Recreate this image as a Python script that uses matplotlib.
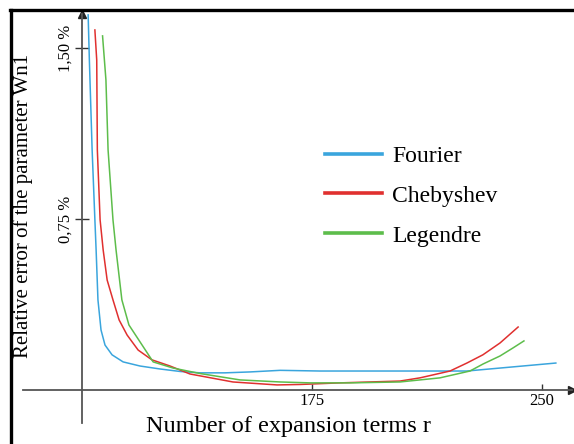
import matplotlib
matplotlib.use("Agg")
import matplotlib.pyplot as plt
from matplotlib.lines import Line2D

plt.rcParams["font.family"] = ["Liberation Serif", "DejaVu Serif"]

# number of expansion terms r / relative error of Wn1 (%)
fourier_r = [102.0, 102.4, 103.3, 104.2, 104.6, 105.2, 106.2, 107.5, 109.8, 113.4,
             118.9, 125.4, 132.0, 138.5, 146.6, 154.8, 164.6, 177.6, 225.5, 254.5]
fourier_err = [1.645, 1.447, 1.053, 0.746, 0.614, 0.395, 0.263, 0.197, 0.154, 0.123,
               0.105, 0.092, 0.081, 0.075, 0.075, 0.079, 0.086, 0.083, 0.083, 0.118]

cheb_r = [104.2, 104.8, 105.0, 105.9, 106.9, 108.2, 110.1, 112.1, 114.7, 118.3,
          122.8, 128.7, 135.2, 149.2, 163.6, 171.1, 184.1, 203.7, 210.2, 220.0,
          225.5, 230.7, 236.3, 242.2]
cheb_err = [1.579, 1.447, 1.053, 0.746, 0.614, 0.482, 0.395, 0.307, 0.241, 0.175,
            0.132, 0.105, 0.070, 0.035, 0.022, 0.024, 0.031, 0.039, 0.053, 0.083,
            0.118, 0.154, 0.206, 0.276]

leg_r = [106.7, 107.8, 108.5, 110.1, 111.1, 113.0, 115.3, 123.2, 129.7, 138.5,
         151.5, 164.6, 174.3, 187.4, 203.7, 216.7, 226.5, 230.8, 236.3, 240.5, 244.1]
leg_err = [1.553, 1.360, 1.053, 0.746, 0.614, 0.395, 0.285, 0.123, 0.096, 0.072,
           0.044, 0.035, 0.031, 0.031, 0.035, 0.053, 0.083, 0.114, 0.149, 0.184, 0.215]

series = ["Fourier", "Chebyshev", "Legendre"]
colors = ["#3aa5dd", "#e0302f", "#5dbd4b"]

x_ticks = [175, 250]
y_ticks = [0.75, 1.50]
y_ticklabels = ["0,75 %", "1,50 %"]

W, H = 574, 444
fig = plt.figure(figsize=(W / 100, H / 100), dpi=100)
ax = fig.add_axes([23 / W, 21 / H, 549 / W, 409 / H])

for r, e, c, lbl in zip([fourier_r, cheb_r, leg_r], [fourier_err, cheb_err, leg_err],
                        colors, series):
    ax.plot(r, e, color=c, lw=1.1, label=lbl)

ax.set_xlim(80.76, 259.77)
ax.set_ylim(-0.145, 1.649)

axis_col = "#555555"
for side in ["top", "right"]:
    ax.spines[side].set_visible(False)
ax.spines["left"].set_position(("data", 100))
ax.spines["bottom"].set_position(("data", 0))
for side in ["left", "bottom"]:
    ax.spines[side].set_color(axis_col)
    ax.spines[side].set_linewidth(1.3)

# arrow heads
ax.plot([1], [0], marker=">", color="#222222", ms=6, transform=ax.get_yaxis_transform(),
        clip_on=False)
ax.plot([100], [1], marker="^", color="#222222", ms=6, transform=ax.get_xaxis_transform(),
        clip_on=False)

ax.set_xticks(x_ticks, [str(t) for t in x_ticks])
ax.set_yticks(y_ticks, y_ticklabels)
ax.tick_params(axis="x", direction="in", length=4.5, width=1, color="#333333",
               labelsize=12, pad=2)
ax.tick_params(axis="y", direction="inout", length=9.5, width=1, color="#333333",
               labelsize=12, pad=1)
for t in ax.get_yticklabels():
    t.set_rotation(90)
    t.set_va("center")

fig.text(288 / W, 1 - 426 / H, "Number of expansion terms r", fontsize=17.5,
         ha="center", va="center")
fig.text(23 / W, 1 - 206 / H, "Relative error of the parameter Wn1", fontsize=15,
         rotation=90, ha="center", va="center")

leg = ax.legend(loc="upper left", bbox_to_anchor=(0.55, 0.679), frameon=False,
                fontsize=17, handlelength=2.4, handletextpad=0.45, labelspacing=0.78,
                borderpad=0, borderaxespad=0)
for h in leg.get_lines():
    h.set_linewidth(2.6)

# outer frame (left and top only)
fig.add_artist(Line2D([11 / W, 11 / W], [0, 1 - 10 / H], color="black", lw=2.4))
fig.add_artist(Line2D([10 / W, 1], [1 - 10 / H, 1 - 10 / H], color="black", lw=2.4))

fig.savefig("out.png", dpi=100)
